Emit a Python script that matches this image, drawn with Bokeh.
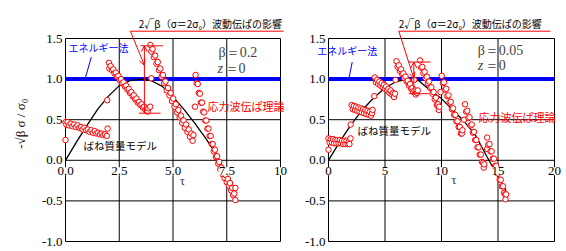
import math
from bokeh.plotting import figure
from bokeh.layouts import row
from bokeh.models import (Range1d, Label, LabelSet, ColumnDataSource, Arrow, OpenHead)
from bokeh.embed import file_html
from bokeh.resources import INLINE

# ---------------- data ----------------
y_ticks = [-1.0, -0.5, 0.0, 0.5, 1.0, 1.5]
y_labels = ["-1.0", "-0.5", "0.0", "0.5", "1.0", "1.5"]
energy_level = 1.0

# left panel (beta = 0.2)
left_x_ticks = [0, 2.5, 5, 7.5, 10]
left_x_labels = ["0.0", "2.5", "5.0", "7.5", "10"]
left_spring_tau = [0, 0.5, 1.0, 1.5, 2.0, 2.5, 3.0, 3.5, 4.0, 4.5, 5.0, 5.5, 6.0, 6.5, 7.0, 7.5, 7.8]
left_spring_val = [0, 0.22, 0.43, 0.63, 0.79, 0.92, 0.98, 1.0, 0.98, 0.91, 0.78, 0.63, 0.46, 0.28, 0.08, -0.18, -0.37]
left_wave_tau = [
    0.00, 0.00, 0.04, 0.10, 0.16, 0.24, 0.32, 0.40, 0.48, 0.56, 0.64, 0.72, 0.80, 0.88, 0.96, 1.04,
    1.12, 1.20, 1.28, 1.36, 1.44, 1.52, 1.60, 1.68, 1.76, 1.84, 1.92, 1.96,
    1.94, 2.02, 2.04, 2.10, 2.16, 2.22, 2.28, 2.34, 2.40, 2.46, 2.52, 2.58, 2.64, 2.70, 2.76, 2.82,
    2.88, 2.94, 3.00, 3.06, 3.12, 3.18, 3.24, 3.30, 3.36, 3.42, 3.48, 3.54, 3.60, 3.66, 3.72, 3.78,
    3.82, 3.86, 3.94,
    3.99, 3.95, 3.99, 4.05, 4.11, 4.17, 4.23, 4.29, 4.35, 4.41, 4.47, 4.53, 4.59, 4.65, 4.71, 4.77,
    4.83, 4.89, 4.95, 5.01, 5.07, 5.13, 5.19, 5.25, 5.31, 5.37, 5.43, 5.49, 5.55, 5.61, 5.67, 5.73,
    5.79, 5.85, 5.91, 5.95,
    6.02, 6.05, 6.10, 6.15, 6.20, 6.25, 6.30, 6.35, 6.40, 6.45, 6.50, 6.55, 6.60, 6.65, 6.70, 6.75,
    6.80, 6.85, 6.90, 6.95, 7.00, 7.05, 7.10, 7.15, 7.20, 7.25, 7.30, 7.35, 7.40, 7.45, 7.50, 7.55,
    7.60, 7.65, 7.70, 7.75, 7.80, 7.85, 7.90, 7.90,
]
left_wave_val = [
    0.25, 0.47, 0.44, 0.47, 0.43, 0.45, 0.42, 0.44, 0.41, 0.43, 0.40, 0.41, 0.38, 0.40, 0.37, 0.38,
    0.35, 0.37, 0.34, 0.36, 0.33, 0.34, 0.32, 0.33, 0.31, 0.32, 0.30, 0.39,
    0.74, 1.20, 1.13, 1.16, 1.11, 1.12, 1.07, 1.08, 1.03, 1.04, 0.99, 1.00, 0.95, 0.96, 0.91, 0.92,
    0.87, 0.88, 0.83, 0.84, 0.79, 0.80, 0.75, 0.76, 0.71, 0.72, 0.68, 0.69, 0.65, 0.66, 0.62, 0.63,
    0.60, 0.64, 0.66,
    1.01, 1.42, 1.34, 1.37, 1.27, 1.29, 1.19, 1.21, 1.11, 1.13, 1.03, 1.05, 0.95, 0.97, 0.86, 0.89,
    0.80, 0.83, 0.73, 0.76, 0.66, 0.69, 0.59, 0.62, 0.53, 0.55, 0.46, 0.49, 0.40, 0.44, 0.35, 0.38,
    0.29, 0.33, 0.24, 0.31,
    0.66, 1.05, 0.95, 0.94, 0.83, 0.82, 0.71, 0.71, 0.60, 0.59, 0.49, 0.49, 0.39, 0.39, 0.30, 0.30,
    0.20, 0.20, 0.11, 0.13, 0.04, 0.05, -0.04, -0.02, -0.11, -0.09, -0.17, -0.13, -0.22, -0.18, -0.27, -0.23,
    -0.31, -0.28, -0.37, -0.34, -0.43, -0.41, -0.34, -0.49,
]

# right panel (beta = 0.05)
right_x_ticks = [0, 5, 10, 15, 20]
right_x_labels = ["0", "5", "10", "15", "20"]
right_spring_tau = [0, 1, 2, 3, 4, 5, 6, 7, 8, 9, 10, 11, 12, 13, 14, 15, 15.7]
right_spring_val = [0, 0.23, 0.44, 0.62, 0.77, 0.89, 0.97, 1.0, 0.98, 0.86, 0.76, 0.62, 0.48, 0.31, 0.05, -0.20, -0.37]
right_wave_tau = [
    0.00, 0.00, 0.10, 0.20, 0.30, 0.40, 0.50, 0.60, 0.70, 0.80, 0.90, 1.00, 1.10, 1.20, 1.30, 1.40,
    1.50, 1.60, 1.70, 1.80, 1.85, 1.95,
    1.96, 2.05, 2.15, 2.25, 2.35, 2.45, 2.55, 2.65, 2.75, 2.85, 2.95, 3.05, 3.15, 3.25, 3.35, 3.45,
    3.55, 3.65, 3.75, 3.85, 3.90,
    4.05, 4.10, 4.20, 4.30, 4.40, 4.50, 4.60, 4.70, 4.80, 4.90, 5.00, 5.10, 5.20, 5.30, 5.40, 5.50,
    5.60, 5.70, 5.80, 5.88,
    5.93, 6.02, 6.12, 6.22, 6.32, 6.42, 6.52, 6.62, 6.72, 6.82, 6.92, 7.02, 7.12, 7.22, 7.32, 7.42,
    7.52, 7.62, 7.72, 7.82, 7.90,
    7.60, 8.10, 8.20, 8.30, 8.40, 8.50, 8.60, 8.70, 8.80, 8.90, 9.00, 9.10, 9.20, 9.30, 9.40, 9.50,
    9.60, 9.70, 9.76, 9.80,
    9.91, 10.02, 10.12, 10.22, 10.32, 10.42, 10.52, 10.62, 10.72, 10.82, 10.92, 11.02, 11.12, 11.22, 11.32, 11.42,
    11.52, 11.62, 11.72, 11.80, 11.85,
    12.00, 12.08, 12.18, 12.28, 12.38, 12.48, 12.58, 12.68, 12.78, 12.88, 12.98, 13.08, 13.18, 13.28, 13.38, 13.48,
    13.58, 13.68, 13.74, 13.78,
    14.04, 14.04, 14.14, 14.24, 14.34, 14.44, 14.54, 14.64, 14.74, 14.84, 14.94, 15.04, 15.14, 15.24, 15.34, 15.44,
    15.54, 15.62, 15.66, 15.72,
]
right_wave_val = [
    0.13, 0.27, 0.22, 0.26, 0.22, 0.26, 0.21, 0.25, 0.21, 0.25, 0.21, 0.25, 0.21, 0.24, 0.20, 0.24,
    0.20, 0.24, 0.20, 0.23, 0.20, 0.27,
    0.44, 0.68, 0.63, 0.67, 0.62, 0.66, 0.61, 0.65, 0.60, 0.64, 0.59, 0.63, 0.58, 0.62, 0.57, 0.61,
    0.56, 0.60, 0.55, 0.58, 0.62,
    0.79, 1.02, 0.96, 0.99, 0.94, 0.97, 0.92, 0.95, 0.90, 0.93, 0.88, 0.91, 0.86, 0.88, 0.83, 0.86,
    0.81, 0.83, 0.78, 0.82,
    0.99, 1.22, 1.15, 1.17, 1.10, 1.12, 1.06, 1.07, 1.01, 1.03, 0.97, 0.98, 0.92, 0.94, 0.88, 0.89,
    0.84, 0.86, 0.81, 0.83, 0.86,
    0.99, 1.23, 1.14, 1.15, 1.07, 1.09, 1.01, 1.03, 0.95, 0.97, 0.89, 0.90, 0.82, 0.84, 0.75, 0.77,
    0.68, 0.69, 0.62, 0.66,
    0.84, 1.04, 0.95, 0.96, 0.87, 0.88, 0.79, 0.80, 0.71, 0.72, 0.63, 0.64, 0.56, 0.56, 0.48, 0.48,
    0.41, 0.41, 0.33, 0.33, 0.37,
    0.50, 0.69, 0.60, 0.61, 0.52, 0.53, 0.43, 0.44, 0.34, 0.35, 0.25, 0.25, 0.16, 0.16, 0.07, 0.07,
    -0.02, -0.03, -0.09, -0.05,
    0.14, 0.28, 0.19, 0.20, 0.11, 0.11, 0.02, 0.02, -0.07, -0.07, -0.16, -0.16, -0.24, -0.24, -0.32, -0.32,
    -0.40, -0.42, -0.48, -0.42,
]

RED = "#ff0000"
BLUE = "#0000ff"
SERIF = "Liberation Serif"
JP = "Noto Sans CJK JP"

FIG_H = 251
BOX_TOP, BOX_BOTTOM = 38, 241          # pixel rows of the plotting box


def panel(width, box_left, box_right, xmax, xticks, xlabels,
          spring_tau, spring_val, wave_tau, wave_val):
    # data ranges extended so that the whole canvas is the frame; the
    # plotting box (0..xmax, -1..1.5) sits at the given pixel positions
    ymin, ymax = y_ticks[0], y_ticks[-1]
    ppx = (box_right - box_left) / xmax
    ppy = (BOX_BOTTOM - BOX_TOP) / (ymax - ymin)
    xr = Range1d(-box_left / ppx, (width - box_left) / ppx)
    yr = Range1d(ymin - (FIG_H - BOX_BOTTOM) / ppy, ymax + BOX_TOP / ppy)
    p = figure(width=width, height=FIG_H, output_backend="svg", toolbar_location=None,
               x_range=xr, y_range=yr, x_axis_location=None, y_axis_location=None,
               min_border=0)
    p.min_border_left = p.min_border_right = p.min_border_top = p.min_border_bottom = 0
    p.background_fill_color = "white"
    p.border_fill_color = "white"
    p.outline_line_color = None
    p.grid.visible = False

    # grid + box
    p.segment(x0=xticks, y0=[ymin] * len(xticks), x1=xticks, y1=[ymax] * len(xticks),
              line_color="black", line_width=1)
    p.segment(x0=[0] * len(y_ticks), y0=y_ticks, x1=[xmax] * len(y_ticks), y1=y_ticks,
              line_color="black", line_width=1)

    # energy method level
    p.segment(x0=[0], y0=[energy_level], x1=[xmax], y1=[energy_level],
              line_color=BLUE, line_width=4)
    p.line(spring_tau, spring_val, line_color="black", line_width=1.3)
    p.scatter(wave_tau, wave_val, marker="circle", size=5.5, line_color=RED,
              fill_color="white", line_width=1)

    xsrc = ColumnDataSource(dict(x=xticks, y=[0] * len(xticks), t=xlabels))
    p.add_layout(LabelSet(x="x", y="y", text="t", source=xsrc, text_align="center",
                          text_baseline="middle", y_offset=-11, text_font=SERIF,
                          text_font_size="13px", text_color="black",
                          background_fill_color="white"))
    ysrc = ColumnDataSource(dict(x=[0] * len(y_ticks), y=y_ticks, t=y_labels))
    p.add_layout(LabelSet(x="x", y="y", text="t", source=ysrc, text_align="right",
                          text_baseline="middle", x_offset=-3, text_font=SERIF,
                          text_font_size="13px", text_color="black"))
    return p


p1 = panel(290, 65, 280, 10, left_x_ticks, left_x_labels,
           left_spring_tau, left_spring_val, left_wave_tau, left_wave_val)
p2 = panel(276, 38, 264, 20, right_x_ticks, right_x_labels,
           right_spring_tau, right_spring_val, right_wave_tau, right_wave_val)

p1.add_layout(Label(x=-2.09, y=0.45, text="-√β σ / σ₀", angle=math.pi / 2,
                    text_align="center", text_baseline="middle", text_font=SERIF,
                    text_font_size="13px", text_color="black"))


def annotate(p, beta_text, xs):
    p.add_layout(Label(x=xs["tau"][0], y=xs["tau"][1], text="τ", text_align="center",
                       text_baseline="middle", text_font=SERIF, text_font_size="13px"))
    p.add_layout(Label(x=xs["beta"][0], y=xs["beta"][1], text=beta_text, text_baseline="middle",
                       text_font=SERIF, text_font_size="14px"))
    p.add_layout(Label(x=xs["z"][0], y=xs["z"][1], text="z", text_baseline="middle",
                       text_font=SERIF, text_font_size="14px", text_font_style="italic"))
    p.add_layout(Label(x=xs["z"][0], y=xs["z"][1], x_offset=7, text="＝0", text_baseline="middle",
                       text_font=SERIF, text_font_size="14px"))
    p.add_layout(Label(x=xs["energy"][0], y=xs["energy"][1], text="エネルギー法",
                       text_baseline="middle", text_font=JP, text_font_size="10px",
                       text_color=BLUE))
    e = xs["eline"]
    p.add_layout(Arrow(end=None, x_start=e[0], y_start=e[1], x_end=e[2], y_end=e[3],
                       line_color=BLUE, line_width=1))
    p.add_layout(Label(x=xs["wave"][0], y=xs["wave"][1], text="応力波伝ぱ理論",
                       text_baseline="middle", text_font=JP, text_font_size="11px",
                       text_color=RED))
    p.add_layout(Label(x=xs["spring"][0], y=xs["spring"][1], text="ばね質量モデル",
                       text_baseline="middle", text_font=JP, text_font_size="10.5px",
                       text_color="black"))
    p.add_layout(Label(x=xs["top"][0], y=xs["top"][1], text="2√β（σ＝2σ₀）波動伝ぱの影響",
                       text_baseline="middle", text_font=JP, text_font_size="10px",
                       text_color="black"))
    ul = xs["under"]
    p.add_layout(Arrow(end=None, x_start=ul[0], y_start=ul[1], x_end=ul[2], y_end=ul[1],
                       line_color=RED, line_width=1))
    ptr = xs["pointer"]
    p.add_layout(Arrow(end=OpenHead(size=6, line_color=RED, line_width=1),
                       x_start=ul[0], y_start=ul[1], x_end=ptr[0], y_end=ptr[1],
                       line_color=RED, line_width=1))
    v = xs["vbar"]
    p.add_layout(Arrow(end=OpenHead(size=6, line_color=RED, line_width=1),
                       x_start=v[0], y_start=v[2], x_end=v[0], y_end=v[1],
                       line_color=RED, line_width=1))
    p.add_layout(Arrow(end=None, x_start=v[3], y_start=v[1], x_end=v[4], y_end=v[1],
                       line_color=RED, line_width=1))
    p.add_layout(Arrow(end=None, x_start=v[5], y_start=v[2], x_end=v[6], y_end=v[2],
                       line_color=RED, line_width=1))


annotate(p1, "β＝0.2", dict(
    tau=(5.43, -0.245), beta=(7.12, 1.33), z=(7.07, 1.13), energy=(0.14, 1.39),
    eline=(0.93, 1.02, 1.2, 1.27), wave=(6.6, 0.67), spring=(0.84, 0.18),
    top=(3.41, 1.685), under=(3.02, 1.59, 10.14), pointer=(3.67, 1.17),
    vbar=(3.67, 1.41, 0.58, 3.49, 4.53, 3.41, 4.42)))
annotate(p2, "β＝0.05", dict(
    tau=(11.09, -0.24), beta=(13.2, 1.35), z=(13.2, 1.17), energy=(-1.0, 1.35),
    eline=(1.77, 0.98, 2.1, 1.21), wave=(13.27, 0.53), spring=(2.57, 0.37),
    top=(6.22, 1.685), under=(6.22, 1.59, 19.65), pointer=(7.55, 1.01),
    vbar=(7.55, 1.21, 0.82, 7.1, 9.03, 7.1, 8.88)))

layout = row(p1, p2)
open("out.html", "w").write(file_html(layout, INLINE))
